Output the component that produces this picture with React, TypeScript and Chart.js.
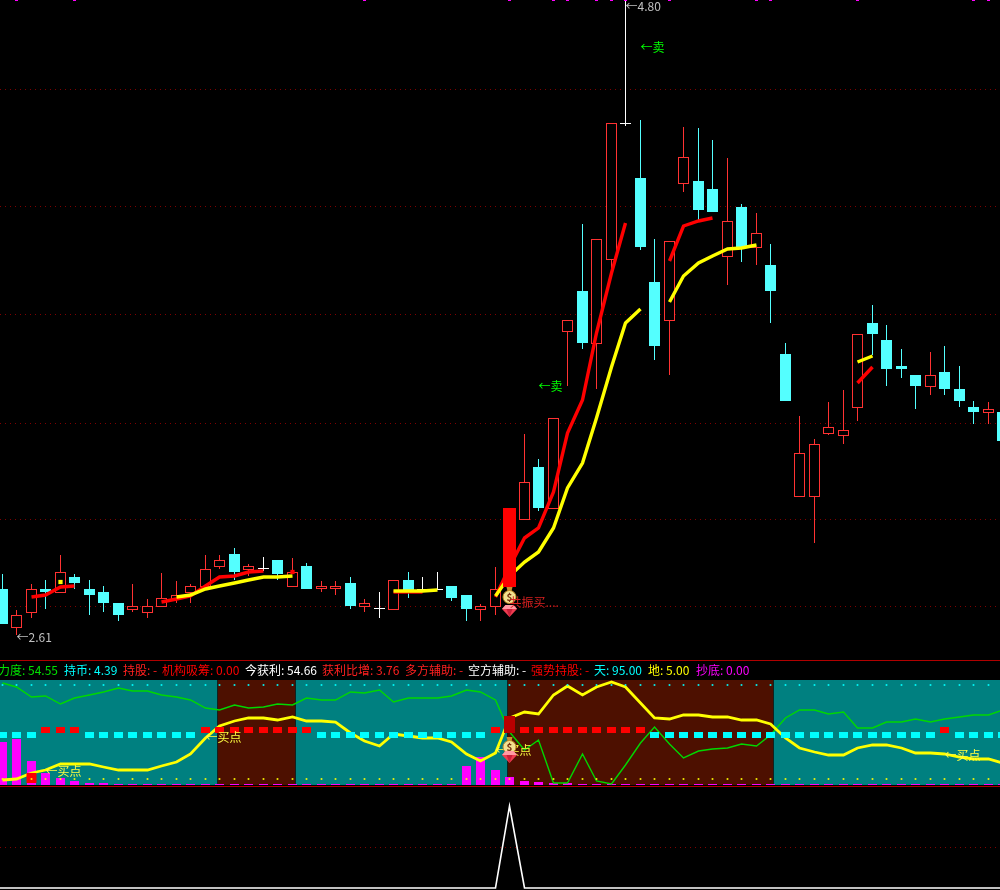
import React, { useEffect, useRef } from "react";
import { Chart, registerables } from "chart.js";

Chart.register(...registerables);

const FONT = '"Noto Sans CJK SC", "Noto Sans", sans-serif';

// ---- candles (index 0..69) ----
const opens = [2.769, 2.635, 2.687, 2.769, 2.756, 2.81, 2.769, 2.758, 2.72, 2.696, 2.686, 2.707, 2.734, 2.755, 2.776, 2.846, 2.889, 2.834, 2.836, 2.869, 2.776, 2.848, 2.768, 2.768, 2.789, 2.708, 2.699, 2.697, 2.8, 2.765, 2.766, 2.779, 2.748, 2.697, 2.708, 2.777, 3.008, 3.189, 3.046, 3.656, 3.797, 3.615, 3.905, 4.374, 4.187, 3.828, 3.694, 4.167, 4.176, 4.149, 3.915, 4.087, 3.946, 3.887, 3.579, 3.087, 3.087, 3.304, 3.298, 3.394, 3.686, 3.628, 3.538, 3.507, 3.467, 3.517, 3.459, 3.397, 3.377, 3.379];
const closes = [2.648, 2.678, 2.768, 2.757, 2.826, 2.789, 2.748, 2.72, 2.679, 2.71, 2.71, 2.738, 2.748, 2.779, 2.838, 2.869, 2.827, 2.848, 2.836, 2.82, 2.827, 2.769, 2.779, 2.779, 2.71, 2.719, 2.699, 2.799, 2.758, 2.765, 2.766, 2.738, 2.7, 2.709, 2.768, 3.048, 3.137, 3.048, 3.358, 3.696, 3.617, 3.975, 4.375, 4.374, 3.949, 3.607, 3.968, 4.258, 4.076, 4.069, 4.037, 3.945, 3.996, 3.797, 3.417, 3.237, 3.268, 3.327, 3.316, 3.647, 3.648, 3.528, 3.528, 3.469, 3.506, 3.459, 3.417, 3.379, 3.389, 3.279];
const highs = [2.82, 2.696, 2.786, 2.8, 2.886, 2.82, 2.8, 2.779, 2.72, 2.786, 2.734, 2.824, 2.796, 2.786, 2.886, 2.886, 2.91, 2.855, 2.879, 2.869, 2.876, 2.858, 2.796, 2.796, 2.81, 2.734, 2.758, 2.799, 2.827, 2.81, 2.827, 2.779, 2.748, 2.717, 2.845, 3.048, 3.303, 3.217, 3.358, 3.696, 4.028, 3.975, 4.375, 4.796, 4.387, 3.976, 3.968, 4.363, 4.359, 4.318, 4.256, 4.097, 4.066, 3.959, 3.617, 3.366, 3.286, 3.414, 3.455, 3.647, 3.749, 3.68, 3.597, 3.507, 3.586, 3.607, 3.538, 3.417, 3.414, 3.379];
const lows = [2.648, 2.61, 2.67, 2.7, 2.756, 2.769, 2.679, 2.689, 2.658, 2.689, 2.669, 2.707, 2.72, 2.72, 2.776, 2.838, 2.8, 2.814, 2.831, 2.8, 2.776, 2.769, 2.758, 2.748, 2.7, 2.689, 2.669, 2.697, 2.738, 2.758, 2.765, 2.727, 2.658, 2.658, 2.679, 2.777, 3.007, 3.038, 3.046, 3.469, 3.597, 3.459, 3.869, 4.366, 3.938, 3.559, 3.507, 4.138, 4.042, 4.069, 3.818, 3.897, 3.887, 3.686, 3.417, 3.086, 2.927, 3.3, 3.269, 3.348, 3.576, 3.469, 3.497, 3.39, 3.438, 3.438, 3.397, 3.338, 3.338, 3.279];
const resonanceBarIndex = 35;
const resonanceBar = [2.777, 3.048];

// ---- moving-line segments on the price panel: [first index, values] ----
const redSegments: [number, number[]][] = [
  [2, [2.741, 2.748, 2.776, 2.779]],
  [11, [2.724, 2.734, 2.746, 2.779, 2.81, 2.815, 2.827, 2.831]],
  [27, [2.757, 2.757, 2.758]],
  [34, [2.742, 2.845, 2.945, 2.979, 3.104, 3.307, 3.421, 3.652, 3.859, 4.031]],
  [46, [3.901, 4.021, 4.039, 4.048]],
  [59, [3.478, 3.534]],
];
const yellowSegments: [number, number[]][] = [
  [12, [2.741, 2.749, 2.768, 2.78, 2.79, 2.801, 2.809, 2.809, 2.813]],
  [27, [2.762, 2.762, 2.763, 2.764]],
  [34, [2.745, 2.814, 2.863, 2.897, 2.979, 3.117, 3.203, 3.359, 3.535, 3.686, 3.735]],
  [46, [3.758, 3.849, 3.892, 3.919, 3.941, 3.944, 3.954]],
  [59, [3.553, 3.573]],
];
const redDot = { i: 20, v: 2.827 };
const yellowDot = { i: 4, v: 2.793 };
const priceGrid = [4.495, 4.09, 3.717, 3.343, 3.009, 2.709];
const topMarks = [1, 5, 25, 35, 38, 39, 41, 42, 43, 46, 52, 53, 59, 67, 68];
const topMarkRange = [4.797, 4.8008];

// ---- indicator panel (0..100) ----
const greenLine = [97.2, 92.7, 83.8, 84.4, 76.5, 82.2, 85.4, 88.3, 91.8, 89.2, 89.2, 85.4, 83.8, 80.6, 73.3, 71.1, 75.9, 72.7, 74.3, 76.5, 75.9, 82.2, 80.6, 80.6, 87.9, 87, 89.9, 78.4, 82.2, 82.2, 82.2, 84.8, 89.9, 87.9, 80.6, 49.8, 32.9, 42.2, 1.1, 1.1, 28.8, 3.4, 0.5, 18.6, 39.3, 54.6, 38.7, 25, 32.3, 33.6, 34.5, 38.3, 36.4, 47.2, 63.8, 70.8, 70.8, 67.6, 68.9, 53.6, 53.6, 59.3, 59.3, 62.2, 60, 62.2, 64.4, 66, 66, 71.1];
const yellowLine = [4.3, 5.3, 11.3, 13.9, 19.6, 19.9, 19.3, 16.4, 14.2, 14.2, 14.2, 18, 21.2, 28.8, 44.1, 56.2, 60.6, 63.2, 63.2, 61.9, 64.4, 60.3, 60.3, 60, 48.8, 41.8, 37.1, 47.9, 46.3, 44.7, 44.7, 40.2, 28.8, 22.4, 30.4, 63.2, 68.9, 67.6, 85.4, 94, 85.4, 92.7, 97.5, 93.4, 77.5, 63.2, 62.2, 66.3, 66.3, 64.7, 64.1, 61.9, 61.9, 57.4, 44.7, 34.5, 31, 28.5, 28.5, 35.2, 38, 38, 34.5, 30.4, 29.8, 29.1, 26.6, 24.7, 24.4, 20.9];
const magentaBars = [40.3, 43.4, 22.4, 11, 5.9, 3.3, 1.4, 1.4, 0.8, 0.8, 0.8, 0.8, 0.8, 0.8, 0.8, 0.8, 0.8, 0.8, 0.8, 0.8, 0.8, 0.8, 0.8, 0.8, 0.8, 0.8, 0.8, 0.8, 0.8, 0.8, 0.8, 0.8, 17.7, 26.2, 13.8, 7.2, 3.3, 2.4, 1.4, 1.4, 0.8, 0.8, 0.8, 0.8, 0.8, 0.8, 0.8, 0.8, 0.8, 0.8, 0.8, 0.8, 0.8, 0.8, 0.8, 0.8, 0.8, 0.8, 0.8, 0.8, 0.8, 0.8, 0.8, 0.8, 0.8, 0.8, 0.8, 0.8, 0.8, 0.8];
const redDashIdx = [3, 4, 5, 14, 15, 16, 17, 18, 19, 20, 21, 34, 36, 37, 38, 39, 40, 41, 42, 43, 44, 65];
const cyanDashIdx = [0, 1, 2, 6, 7, 8, 9, 10, 11, 12, 13, 22, 23, 24, 25, 26, 27, 28, 29, 30, 31, 32, 33, 45, 46, 47, 48, 49, 50, 51, 52, 53, 54, 55, 56, 57, 58, 59, 60, 61, 62, 63, 64, 66, 67, 68, 69];
const redDashRange = [49.1, 55];
const cyanDashRange = [44.3, 50.2];
const bigDash = { i: 35, range: [49.1, 65.4] };
const redBlob = { i: 2, range: [1.5, 11] };
const skyLevel = 95;
const groundLevel = 5;
const tealZones = [[-0.2, 14.81], [20.19, 34.81], [53.22, 69]];
const brownZones = [[14.81, 20.19], [34.81, 53.22]];
const zoneTop = 100;
const zoneBase = -0.5;

// ---- bottom panel ----
const spikeX = [-1, 34, 35, 36, 70];
const spikeY = [0, 0, 1, 0, 0];
const spikeGrid = [0.5];
const dividerRows = [660, 786];

// ---- header ----
const headerTexts = ["力度: 54.55", "持币: 4.39", "持股: -", "机构吸筹: 0.00", "今获利: 54.66", "获利比增: 3.76", "多方辅助: -", "空方辅助: -", "强势持股: -", "天: 95.00", "地: 5.00", "抄底: 0.00"];
const headerColors = ["#00e000", "#00ffff", "#ff2020", "#ff0000", "#ffffff", "#ff2020", "#ff2020", "#ffffff", "#ff0000", "#00ffff", "#ffff00", "#ff00ff"];
const headerLefts = [-2, 64, 123, 162, 245, 322, 405, 468, 531, 594, 648, 696];

// ---- chart annotations ----
type Label = { i: number; v: number; scale: string; text: string; color: string };
const iconLabels: Label[] = [
  { i: 34, v: 33, scale: "yPanel", text: "←买点", color: "#ffff40" },
  { i: 3, v: 12.9, scale: "yPanel", text: "←买点", color: "#ffff40" },
  { i: 14, v: 45.3, scale: "yPanel", text: "←买点", color: "#ffff40" },
  { i: 65, v: 28, scale: "yPanel", text: "←买点", color: "#ffff40" },
];
const plainLabels: Label[] = [
  { i: 44, v: 4.639, scale: "y", text: "←卖", color: "#00ff00" },
  { i: 37, v: 3.469, scale: "y", text: "←卖", color: "#00ff00" },
  { i: 43, v: 4.78, scale: "y", text: "←4.80", color: "#c0c0c0" },
  { i: 1, v: 2.604, scale: "y", text: "←2.61", color: "#c0c0c0" },
  { i: 35, v: 2.724, scale: "y", text: "共振买....", color: "#d82020" },
];
const bagPoints = [{ i: 35, v: 2.748, scale: "y" }, { i: 35, v: 37.7, scale: "yPanel" }];
const gemPoints = [{ i: 35, v: 2.693, scale: "y" }, { i: 35, v: 25.8, scale: "yPanel" }];

const RED = "#ff3232";
const CYAN = "#54ffff";
const WHITE = "#ffffff";
const DOJI_H = 0.00345;

const xy = (arr: number[]) => arr.map((y, x) => ({ x, y }));
const candleColor = (i: number) => (closes[i] > opens[i] ? RED : closes[i] < opens[i] ? CYAN : WHITE);

const pixelSnap = {
  id: "pixelSnap",
  beforeDatasetsUpdate(chart: any) {
    Object.values(chart.scales).forEach((s: any) => {
      if (s.$snapped) return;
      s.$snapped = true;
      const orig = s.getPixelForValue.bind(s);
      s.getPixelForValue =
        s.axis === "x"
          ? (v: number, idx?: number) => Math.floor(orig(v, idx)) + 0.5
          : (v: number, idx?: number) => Math.round(orig(v, idx));
    });
  },
};

function drawBag(ctx: CanvasRenderingContext2D, x: number, y: number) {
  ctx.fillStyle = "#c89030";
  ctx.beginPath();
  ctx.moveTo(x - 3, y - 8);
  ctx.lineTo(x + 3, y - 8);
  ctx.lineTo(x + 2, y - 4);
  ctx.lineTo(x - 2, y - 4);
  ctx.closePath();
  ctx.fill();
  ctx.fillStyle = "#f2e090";
  ctx.beginPath();
  ctx.arc(x, y + 2, 6.5, 0, Math.PI * 2);
  ctx.fill();
  ctx.strokeStyle = "#c08820";
  ctx.lineWidth = 1;
  ctx.stroke();
  ctx.fillStyle = "#7a3010";
  ctx.font = `bold 10px ${FONT}`;
  ctx.textAlign = "center";
  ctx.textBaseline = "middle";
  ctx.fillText("$", x, y + 2);
}

function drawGem(ctx: CanvasRenderingContext2D, x: number, y: number) {
  ctx.fillStyle = "#ee3c50";
  ctx.beginPath();
  ctx.moveTo(x - 7.5, y - 2);
  ctx.lineTo(x - 4, y - 6);
  ctx.lineTo(x + 4, y - 6);
  ctx.lineTo(x + 7.5, y - 2);
  ctx.lineTo(x, y + 6);
  ctx.closePath();
  ctx.fill();
  ctx.fillStyle = "#ff9aa4";
  ctx.beginPath();
  ctx.moveTo(x - 7.5, y - 2);
  ctx.lineTo(x - 4, y - 6);
  ctx.lineTo(x + 4, y - 6);
  ctx.lineTo(x + 7.5, y - 2);
  ctx.closePath();
  ctx.fill();
  ctx.fillStyle = "#c81e38";
  ctx.beginPath();
  ctx.moveTo(x - 3, y - 2);
  ctx.lineTo(x + 3, y - 2);
  ctx.lineTo(x, y + 6);
  ctx.closePath();
  ctx.fill();
}

const annotations = {
  id: "annotations",
  afterDatasetsDraw(chart: any) {
    const { ctx, scales } = chart;
    const text = (list: Label[]) => {
      ctx.font = `12px ${FONT}`;
      ctx.textAlign = "left";
      ctx.textBaseline = "middle";
      list.forEach((l) => {
        ctx.fillStyle = l.color;
        ctx.fillText(l.text, scales.x.getPixelForValue(l.i), scales[l.scale].getPixelForValue(l.v));
      });
    };
    ctx.save();
    text(iconLabels);
    bagPoints.forEach((p) => drawBag(ctx, scales.x.getPixelForValue(p.i), scales[p.scale].getPixelForValue(p.v)));
    gemPoints.forEach((p) => drawGem(ctx, scales.x.getPixelForValue(p.i), scales[p.scale].getPixelForValue(p.v)));
    text(plainLabels);
    ctx.restore();
  },
};

const lineDs = (data: any[], color: string, width: number, yAxisID: string, order: number) => ({
  type: "line",
  data,
  borderColor: color,
  backgroundColor: color,
  borderWidth: width,
  pointRadius: 0,
  tension: 0,
  fill: false,
  xAxisID: "x",
  yAxisID,
  order,
});

const floatDs = (data: any[], color: any, thick: number, yAxisID: string, order: number, extra: any = {}) => ({
  type: "bar",
  data,
  backgroundColor: color,
  barThickness: thick,
  grouped: false,
  borderWidth: 0,
  borderSkipped: false,
  inflateAmount: 0,
  xAxisID: "x",
  yAxisID,
  order,
  ...extra,
});

const segmentData = ([from, values]: [number, number[]]) => values.map((y, k) => ({ x: from + k, y }));

const zoneDs = (z: number[], color: string) => ({
  type: "line",
  data: [{ x: z[0], y: zoneTop }, { x: z[1], y: zoneTop }],
  borderWidth: 0,
  borderColor: color,
  backgroundColor: color,
  pointRadius: 0,
  fill: { target: { value: zoneBase } },
  xAxisID: "x",
  yAxisID: "yPanel",
  order: 100,
});

const hiddenAxis = (min: number, max: number, ticks: number[], color: string, dash: number[], reverse = false) => ({
  type: "linear",
  min,
  max,
  reverse,
  position: "left",
  afterFit: (s: any) => {
    s.width = 0;
  },
  afterBuildTicks: (s: any) => {
    s.ticks = ticks.map((value) => ({ value }));
  },
  ticks: { display: false, autoSkip: false },
  border: { display: false, dash },
  grid: { color, drawTicks: false, lineWidth: 1 },
});

export default function App() {
  const ref = useRef<HTMLCanvasElement>(null);

  useEffect(() => {
    document.body.style.margin = "0";
    document.body.style.background = "#000";
    const datasets: any[] = [
      ...tealZones.map((z) => zoneDs(z, "#008080")),
      ...brownZones.map((z) => zoneDs(z, "#4d1000")),

      // candles
      floatDs(
        highs.map((h, x) => ({ x, y: [lows[x], h] })),
        highs.map((_, i) => candleColor(i)),
        1, "y", 60
      ),
      floatDs(
        opens.map((o, x) => {
          const lo = Math.min(o, closes[x]);
          const hi = Math.max(o, closes[x]);
          return { x, y: [lo, hi === lo ? hi + DOJI_H : hi] };
        }),
        opens.map((_, i) => (candleColor(i) === RED ? "#000000" : candleColor(i))),
        11, "y", 55,
        { borderWidth: 1, borderColor: opens.map((_, i) => candleColor(i)) }
      ),
      ...redSegments.map((s) => lineDs(segmentData(s), "#ff0000", 3.4, "y", 40)),
      ...yellowSegments.map((s) => lineDs(segmentData(s), "#ffff00", 3.4, "y", 35)),
      { ...lineDs([{ x: redDot.i, y: redDot.v }], "#ff0000", 0, "y", 34), pointRadius: 3, pointStyle: "rect" },
      { ...lineDs([{ x: yellowDot.i, y: yellowDot.v }], "#ffff00", 0, "y", 34), pointRadius: 3, pointStyle: "rect" },
      floatDs([{ x: resonanceBarIndex, y: resonanceBar }], "#ff0000", 13, "y", 20),
      floatDs(topMarks.map((x) => ({ x, y: topMarkRange })), "#ff00ff", 3, "y", 20),

      // indicator panel
      floatDs(magentaBars.map((v, x) => ({ x, y: [zoneBase, v] })), "#ff00ff", 9, "yPanel", 80),
      { ...lineDs(xy(greenLine), "#00d800", 1.4, "yPanel", 70) },
      { ...lineDs(xy(yellowLine), "#ffff00", 2.8, "yPanel", 65) },
      floatDs(redDashIdx.map((x) => ({ x, y: redDashRange })), "#ff0000", 9, "yPanel", 50),
      floatDs(cyanDashIdx.map((x) => ({ x, y: cyanDashRange })), "#00ffff", 9, "yPanel", 50),
      floatDs([{ x: bigDash.i, y: bigDash.range }], "#b80000", 11, "yPanel", 49),
      floatDs([{ x: redBlob.i, y: redBlob.range }], "#ff0000", 10, "yPanel", 49),
      { ...lineDs(magentaBars.map((_, x) => ({ x, y: skyLevel })), "#00ffff", 0, "yPanel", 48), showLine: false, pointRadius: 1.2, pointStyle: "rect" },
      { ...lineDs(magentaBars.map((_, x) => ({ x, y: groundLevel })), "#ffff00", 0, "yPanel", 48), showLine: false, pointRadius: 1.2, pointStyle: "rect" },

      // bottom panel
      lineDs(spikeX.map((x, k) => ({ x, y: spikeY[k] })), "#ffffff", 1.6, "ySub", 30),
    ];

    const chart = new Chart(ref.current as HTMLCanvasElement, {
      type: "line",
      data: { datasets },
      plugins: [pixelSnap, annotations],
      options: {
        animation: false,
        responsive: false,
        maintainAspectRatio: false,
        devicePixelRatio: 1,
        layout: { padding: 0, autoPadding: false },
        plugins: { legend: { display: false }, tooltip: { enabled: false } },
        scales: {
          x: { type: "linear", min: -2.3 / 14.5, max: 997.7 / 14.5, display: false, offset: false },
          y: hiddenAxis(1.73025, 4.80075, priceGrid, "#800000", [1, 4]),
          yPanel: { type: "linear", min: -100.67, max: 748.57, display: false },
          ySub: hiddenAxis(-0.0242, 10.77, spikeGrid, "#800000", [1, 4]),
          yRule: hiddenAxis(0, 890, dividerRows, "#b00000", [], true),
        },
      } as any,
    } as any);
    return () => chart.destroy();
  }, []);

  return (
    <div style={{ position: "relative", width: 1000, height: 890, background: "#000", overflow: "hidden" }}>
      <canvas ref={ref} width={1000} height={890} style={{ display: "block", width: 1000, height: 890 }} />
      {headerTexts.map((t, i) => (
        <span
          key={t}
          style={{
            position: "absolute",
            left: headerLefts[i],
            top: 661,
            height: 18,
            lineHeight: "18px",
            font: `12px/18px ${FONT}`,
            color: headerColors[i],
            whiteSpace: "nowrap",
          }}
        >
          {t}
        </span>
      ))}
    </div>
  );
}
